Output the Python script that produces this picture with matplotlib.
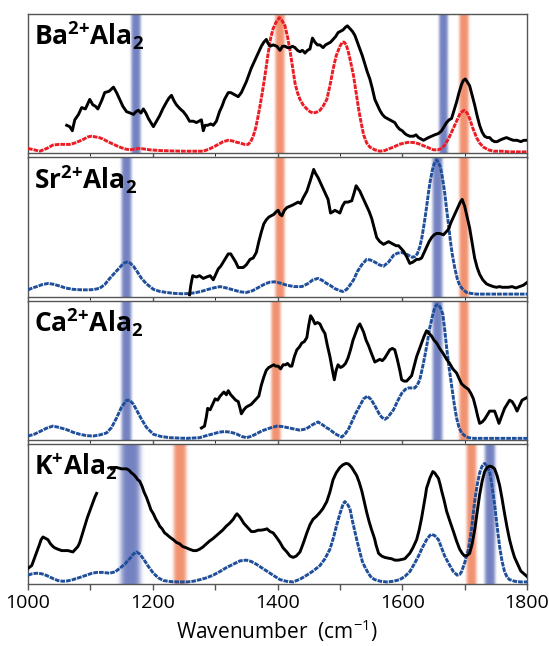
import numpy as np
import matplotlib
matplotlib.use('Agg')
import matplotlib.pyplot as plt
from matplotlib.colors import to_rgb

# IR spectra of M(n+)Ala2 complexes: experiment (black) vs. computed (dotted)
labels = [r'$\mathbf{Ba^{2{+}}Ala_{2}}$', r'$\mathbf{Sr^{2{+}}Ala_{2}}$',
          r'$\mathbf{Ca^{2{+}}Ala_{2}}$', r'$\mathbf{K^{{+}}Ala_{2}}$']

ba_exp = [(1062, 19), (1067, 18), (1071, 15), (1075, 23), (1081, 27), (1086, 32), (1092, 31),
          (1099, 38), (1104, 34), (1108, 33), (1112, 31), (1118, 37), (1123, 43), (1130, 44),
          (1137, 47), (1142, 43), (1147, 38), (1152, 33), (1158, 29), (1164, 28), (1169, 27),
          (1173, 29), (1177, 30), (1181, 28), (1185, 31), (1189, 28), (1193, 24), (1197, 21),
          (1201, 18), (1206, 22), (1211, 26), (1216, 31), (1222, 36), (1226, 39), (1230, 41),
          (1234, 37), (1238, 34), (1244, 31), (1249, 29), (1254, 26), (1259, 22), (1265, 22),
          (1270, 21), (1274, 22), (1278, 23), (1281, 15), (1284, 19), (1288, 19), (1293, 20),
          (1297, 19), (1302, 22), (1307, 29), (1311, 33), (1315, 38), (1321, 43), (1325, 43),
          (1329, 42), (1333, 41), (1337, 40), (1342, 43), (1346, 47), (1350, 51), (1354, 56),
          (1358, 61), (1362, 65), (1366, 69), (1370, 73), (1374, 77), (1378, 80), (1382, 82),
          (1385, 79), (1388, 77), (1393, 78), (1399, 77), (1404, 74), (1408, 77), (1412, 77),
          (1416, 76), (1420, 76), (1424, 77), (1428, 76), (1432, 74), (1436, 73), (1440, 74),
          (1444, 72), (1448, 74), (1452, 75), (1456, 83), (1460, 80), (1464, 78), (1468, 78),
          (1473, 76), (1477, 78), (1481, 79), (1485, 80), (1489, 82), (1493, 84), (1497, 87),
          (1501, 88), (1505, 89), (1509, 91), (1512, 92), (1516, 90), (1520, 88), (1524, 85),
          (1528, 80), (1532, 75), (1536, 70), (1540, 64), (1544, 58), (1548, 53), (1552, 46),
          (1556, 38), (1560, 34), (1564, 30), (1568, 27), (1572, 25), (1576, 24), (1580, 23),
          (1584, 22), (1588, 21), (1592, 18), (1596, 16), (1600, 15), (1604, 13), (1607, 12),
          (1612, 11), (1618, 11), (1622, 12), (1626, 10), (1630, 9), (1634, 8), (1638, 9),
          (1642, 10), (1647, 11), (1652, 12), (1658, 13), (1663, 15), (1667, 18), (1671, 21),
          (1675, 23), (1679, 24), (1683, 30), (1687, 36), (1691, 43), (1695, 49), (1698, 52),
          (1701, 53), (1704, 51), (1708, 48), (1712, 41), (1716, 34), (1720, 26), (1724, 19),
          (1728, 14), (1732, 11), (1736, 10), (1740, 10), (1744, 8), (1748, 7), (1752, 7),
          (1756, 8), (1761, 9), (1767, 10), (1772, 9), (1778, 8), (1784, 8), (1790, 7),
          (1795, 8), (1800, 8)]

ba_calc = [(1000, 2), (1010, 1), (1019, 0), (1030, 2), (1040, 4.5), (1050, 5), (1060, 5),
           (1067, 5), (1075, 6), (1083, 7.5), (1090, 9), (1096, 10.5), (1102, 11), (1108, 10.5),
           (1114, 10), (1120, 9), (1128, 7), (1135, 5.5), (1142, 4), (1150, 2.5), (1157, 1.5),
           (1163, 1), (1170, 1.5), (1178, 2), (1185, 1.7), (1195, 1), (1211, 0.5), (1230, 0.2),
           (1250, 0), (1270, 0), (1281, 0), (1290, 1.5), (1297, 3), (1305, 5), (1313, 7),
           (1321, 8), (1328, 7.5), (1335, 6.5), (1340, 6), (1347, 5), (1353, 5), (1357, 7),
           (1361, 11), (1365, 17), (1369, 26), (1373, 36), (1377, 47), (1381, 59), (1385, 72),
           (1389, 83), (1393, 90), (1398, 95), (1403, 98), (1407, 96), (1412, 92), (1416, 84),
           (1420, 74), (1424, 62), (1428, 50), (1432, 43), (1436, 38), (1441, 34), (1447, 31),
           (1452, 29), (1457, 28), (1462, 28.5), (1468, 30), (1473, 33), (1479, 38), (1484, 48),
           (1489, 60), (1494, 70), (1500, 77), (1504, 80), (1507, 80), (1510, 78), (1513, 74),
           (1517, 66), (1522, 55), (1526, 43), (1530, 31), (1534, 21), (1538, 12), (1543, 6),
           (1548, 3), (1556, 1), (1564, 0), (1572, 0.5), (1580, 2), (1586, 3), (1595, 5),
           (1603, 6), (1610, 6.5), (1618, 6.4), (1626, 5.5), (1634, 4), (1642, 2.5), (1650, 1),
           (1657, 1), (1663, 2), (1668, 4.5), (1674, 9), (1680, 15), (1687, 22), (1693, 28),
           (1699, 30), (1704, 28), (1708, 24), (1713, 17), (1719, 10), (1724, 6), (1730, 3),
           (1738, 1), (1746, 0), (1760, 0), (1772, -0.5), (1800, -0.5)]

sr_exp = [(1259, 0), (1261, 7), (1264, 14), (1270, 13), (1275, 14), (1281, 12), (1286, 13),
          (1292, 14), (1297, 11), (1301, 15), (1305, 19), (1309, 21), (1313, 24), (1317, 27),
          (1321, 30), (1325, 30), (1329, 27), (1333, 24), (1337, 20), (1341, 20), (1345, 20),
          (1350, 22), (1356, 26), (1361, 27), (1366, 31), (1370, 39), (1374, 46), (1378, 52),
          (1382, 55), (1386, 57), (1390, 58), (1394, 59), (1398, 61), (1401, 62), (1404, 59),
          (1407, 58), (1411, 62), (1415, 64), (1420, 65), (1425, 66), (1429, 67), (1433, 68),
          (1437, 67), (1441, 71), (1447, 76), (1452, 83), (1456, 89), (1458, 92), (1461, 89),
          (1465, 86), (1469, 82), (1473, 78), (1477, 74), (1481, 70), (1485, 60), (1489, 61),
          (1492, 62), (1496, 61), (1500, 60), (1504, 65), (1508, 68), (1513, 68), (1519, 69),
          (1523, 75), (1526, 80), (1529, 78), (1532, 76), (1537, 71), (1543, 65), (1547, 61),
          (1551, 56), (1555, 49), (1559, 42), (1564, 39), (1570, 37), (1574, 38), (1578, 39),
          (1582, 38), (1586, 37), (1590, 36), (1594, 36), (1598, 34), (1602, 32), (1607, 28),
          (1612, 23), (1617, 24), (1623, 26), (1627, 26), (1631, 27), (1635, 31), (1639, 35),
          (1643, 39), (1647, 42), (1651, 44), (1655, 45), (1660, 45), (1666, 44), (1670, 46),
          (1674, 48), (1678, 53), (1682, 57), (1686, 61), (1690, 65), (1693, 68), (1696, 70),
          (1700, 65), (1704, 57), (1708, 49), (1712, 38), (1716, 27), (1720, 20), (1724, 15),
          (1729, 11), (1735, 8), (1740, 7), (1746, 6), (1751, 5.5), (1756, 6), (1760, 5.5),
          (1765, 5.5), (1770, 5.5), (1776, 6), (1782, 5), (1788, 6), (1794, 7), (1800, 9)]

sr_calc = [(1000, 3.6), (1007, 5), (1014, 6), (1023, 7.5), (1032, 8.3), (1040, 7.8), (1051, 6.4),
           (1060, 5), (1072, 4), (1083, 3.7), (1094, 3.6), (1105, 3.8), (1115, 4.8), (1123, 7.5),
           (1131, 12), (1139, 16), (1147, 20), (1153, 23), (1158, 24), (1163, 23.5), (1169, 21),
           (1175, 17), (1182, 12), (1190, 8), (1201, 4), (1211, 2.5), (1222, 1.7), (1235, 1),
           (1249, 0.7), (1260, 1), (1270, 1.7), (1278, 2.5), (1286, 3.6), (1297, 5), (1308, 6),
           (1318, 5), (1329, 3.6), (1340, 2.2), (1350, 1.7), (1360, 3), (1372, 6), (1380, 8),
           (1388, 9.3), (1396, 9.5), (1405, 8.5), (1415, 7), (1427, 6), (1439, 6), (1448, 8),
           (1457, 11), (1465, 12), (1472, 10.5), (1478, 8.5), (1484, 7), (1492, 4.5), (1500, 3),
           (1505, 2.4), (1511, 4), (1516, 7), (1522, 11), (1528, 17), (1535, 22), (1543, 26),
           (1549, 25.5), (1556, 24), (1563, 22), (1570, 21), (1578, 24), (1586, 29), (1592, 30.5),
           (1598, 31), (1604, 30.5), (1610, 29), (1616, 27.5), (1620, 28), (1624, 30), (1628, 35),
           (1631, 41), (1634, 49), (1637, 58), (1640, 68), (1642, 75), (1645, 84), (1648, 91),
           (1651, 96), (1655, 99), (1658, 97), (1661, 94), (1664, 87), (1668, 75), (1671, 63),
           (1674, 52), (1677, 40), (1680, 30), (1684, 20), (1688, 12), (1692, 7), (1697, 4),
           (1703, 1.7), (1710, 1), (1719, 0.5), (1740, 0.5), (1800, 0.5)]

ca_exp = [(1278, 7.6), (1283, 9), (1286, 16), (1288, 22), (1292, 21), (1296, 25), (1300, 29),
          (1304, 28), (1308, 31), (1312, 33), (1314, 34), (1318, 32), (1321, 35), (1325, 32),
          (1329, 30), (1333, 28), (1337, 27), (1340, 22), (1342, 18), (1346, 21), (1350, 23),
          (1354, 24), (1358, 25), (1362, 27), (1366, 29), (1370, 31), (1374, 39), (1378, 45),
          (1382, 50), (1386, 52), (1390, 53), (1394, 54), (1397, 53), (1401, 53), (1405, 51),
          (1409, 54), (1413, 54), (1416, 55), (1420, 53), (1423, 53), (1427, 60), (1431, 65),
          (1435, 67), (1439, 70), (1443, 71), (1447, 74), (1450, 83), (1453, 90), (1456, 88),
          (1460, 84), (1464, 85), (1468, 84), (1472, 80), (1476, 77), (1480, 68), (1484, 60),
          (1488, 50), (1491, 43), (1494, 50), (1497, 54), (1501, 52), (1505, 53), (1509, 55),
          (1513, 59), (1517, 65), (1521, 72), (1525, 77), (1529, 82), (1532, 84), (1535, 81),
          (1538, 78), (1542, 72), (1546, 68), (1550, 63), (1556, 56), (1560, 57), (1564, 58),
          (1568, 57), (1572, 59), (1576, 62), (1580, 65), (1584, 66), (1588, 65), (1592, 58),
          (1596, 50), (1599, 43), (1603, 42), (1607, 42), (1611, 44), (1615, 46), (1619, 53),
          (1623, 60), (1627, 65), (1631, 70), (1635, 75), (1639, 79), (1643, 77), (1647, 75),
          (1651, 72), (1655, 70), (1660, 66), (1666, 62), (1671, 58), (1676, 55), (1681, 51),
          (1687, 48), (1691, 44), (1695, 40), (1700, 38), (1706, 36), (1710, 33), (1714, 29),
          (1718, 22), (1721, 16), (1724, 11), (1728, 12), (1732, 14), (1736, 17), (1740, 20),
          (1744, 20), (1748, 20), (1752, 15), (1755, 11), (1759, 16), (1764, 22), (1768, 25),
          (1772, 28), (1776, 27), (1780, 24), (1784, 20), (1788, 24), (1792, 28), (1796, 29),
          (1800, 30)]

ca_calc = [(1000, 1.7), (1010, 3), (1019, 5), (1030, 7.5), (1040, 9), (1050, 8), (1062, 6.4),
           (1072, 4.5), (1083, 3), (1094, 2), (1104, 1.7), (1115, 2.5), (1126, 4), (1134, 8),
           (1142, 15), (1150, 23), (1158, 28), (1163, 28), (1169, 25), (1175, 20), (1182, 14),
           (1190, 8), (1201, 3), (1212, 1.5), (1227, 0.5), (1254, 0), (1275, 0.5), (1286, 2),
           (1297, 3.3), (1306, 4.5), (1315, 5), (1325, 4.5), (1334, 3.3), (1342, 1.5), (1350, 0.5),
           (1358, 1.5), (1366, 3.3), (1375, 5.5), (1388, 7.6), (1399, 9), (1407, 8.7), (1415, 8),
           (1425, 7), (1436, 6), (1446, 7), (1456, 10), (1465, 12), (1472, 10), (1478, 8),
           (1484, 6.4), (1492, 3.5), (1498, 2), (1503, 1), (1508, 3), (1514, 7), (1519, 12),
           (1525, 18), (1532, 24), (1538, 29), (1544, 31), (1550, 28.5), (1556, 24), (1563, 18),
           (1567, 15.5), (1572, 14), (1577, 15.5), (1581, 18), (1586, 21), (1592, 27), (1599, 33),
           (1605, 36), (1610, 37), (1616, 37), (1620, 37), (1624, 39), (1628, 43), (1632, 51),
           (1636, 60), (1640, 70), (1644, 81), (1648, 89), (1652, 96), (1655, 98), (1658, 98),
           (1661, 96), (1665, 91), (1668, 80), (1671, 67), (1675, 52), (1679, 39), (1683, 26),
           (1687, 15), (1691, 8), (1695, 4), (1700, 2), (1706, 0.5), (1715, 0), (1800, 0)]

k_exp = [(1000, 10), (1003, 11), (1006, 12), (1010, 17), (1014, 22), (1018, 27), (1021, 31),
         (1024, 33), (1028, 32), (1032, 31), (1036, 28), (1040, 26), (1043, 25), (1048, 24),
         (1054, 23), (1059, 23), (1064, 23), (1068, 22.5), (1072, 22), (1076, 24), (1080, 26),
         (1083, 29), (1087, 35), (1091, 41), (1095, 47), (1099, 52), (1103, 57), (1107, 62),
         (1110, 65), (1122, np.nan),
         (1134, 83), (1138, 84), (1142, 84), (1146, 83.5), (1150, 83), (1154, 83), (1158, 83),
         (1162, 82), (1166, 80), (1169, 79), (1173, 77), (1176, 75), (1179, 74), (1183, 70),
         (1186, 66), (1190, 62), (1194, 57), (1197, 53), (1201, 50), (1205, 46), (1209, 43),
         (1211, 41), (1215, 39), (1219, 36), (1222, 35), (1227, 33), (1233, 31), (1238, 29),
         (1243, 28), (1248, 26), (1254, 25), (1259, 24), (1265, 23), (1270, 23), (1275, 24),
         (1280, 25.5), (1286, 28), (1291, 30), (1297, 32), (1302, 34), (1307, 36), (1312, 38),
         (1318, 41), (1323, 43), (1329, 46), (1333, 49), (1335, 50), (1339, 48), (1342, 46),
         (1346, 43), (1350, 41), (1354, 39), (1358, 37), (1363, 37), (1369, 38), (1374, 38),
         (1380, 38.5), (1383, 39), (1388, 37), (1393, 36), (1398, 33), (1404, 29), (1409, 25),
         (1415, 22), (1420, 19), (1425, 18), (1430, 19), (1436, 22), (1441, 28), (1447, 36),
         (1452, 42), (1457, 46), (1462, 48), (1468, 51), (1473, 54), (1479, 59), (1484, 66),
         (1489, 75), (1494, 80), (1500, 84), (1505, 86), (1510, 87), (1514, 86.5), (1519, 84),
         (1523, 81), (1527, 78), (1531, 73), (1535, 67), (1539, 59), (1543, 51), (1547, 44),
         (1551, 38), (1554, 34), (1556, 31), (1558, 27), (1560, 24), (1562, 21), (1567, 19),
         (1572, 18), (1577, 17.5), (1583, 17), (1588, 16), (1594, 16), (1599, 16.5), (1604, 17),
         (1608, 19), (1612, 21), (1617, 25), (1620, 28), (1623, 31), (1627, 38), (1631, 47),
         (1634, 55), (1637, 63), (1639, 69), (1642, 73), (1644, 76), (1647, 79), (1649, 81),
         (1652, 80), (1655, 78), (1658, 76), (1661, 71), (1663, 67), (1667, 60), (1671, 52),
         (1676, 45), (1682, 37), (1687, 30), (1692, 24), (1696, 21), (1700, 19), (1704, 19.5),
         (1708, 21), (1712, 28), (1716, 38), (1720, 51), (1724, 64), (1728, 74), (1732, 81),
         (1736, 84), (1740, 85), (1744, 84.5), (1748, 83), (1752, 78), (1756, 71), (1760, 61),
         (1764, 50), (1768, 40), (1772, 31), (1776, 24), (1780, 18), (1785, 13), (1790, 8),
         (1795, 6), (1800, 4)]

k_calc = [(1000, 5), (1007, 6), (1014, 6.4), (1022, 6), (1030, 4.7), (1040, 2.5), (1048, 1),
          (1056, 0.5), (1064, 0.8), (1072, 1.7), (1083, 3.3), (1094, 5), (1102, 6.3), (1110, 7),
          (1120, 7), (1131, 6.4), (1140, 7.5), (1147, 10), (1155, 13), (1163, 17), (1169, 20.5),
          (1174, 22), (1179, 20.5), (1185, 17), (1192, 12), (1201, 6.4), (1209, 3), (1217, 1),
          (1230, 0.2), (1243, 0), (1255, 0), (1265, 0.5), (1276, 1.7), (1286, 3), (1297, 5),
          (1307, 7.5), (1318, 10.5), (1329, 13), (1340, 15.5), (1350, 16), (1358, 15), (1366, 13),
          (1376, 10), (1388, 6.4), (1396, 4), (1404, 1.7), (1414, 0.5), (1425, 0), (1436, 2),
          (1447, 5), (1457, 8), (1468, 12), (1476, 17), (1484, 24), (1490, 33), (1495, 42),
          (1500, 50), (1505, 57), (1508, 59), (1512, 57), (1516, 54), (1520, 45), (1524, 37),
          (1527, 31), (1532, 22), (1536, 15), (1540, 11), (1546, 6), (1551, 3), (1556, 1.7),
          (1565, 0.5), (1575, 0), (1586, 0.5), (1596, 1.7), (1604, 4), (1612, 7.5), (1619, 13),
          (1626, 19), (1632, 25), (1639, 31), (1644, 34), (1647, 35), (1652, 34), (1658, 31),
          (1663, 25), (1668, 19), (1675, 13), (1682, 7.5), (1688, 5), (1692, 5.5), (1695, 7.5),
          (1700, 14), (1706, 24), (1711, 39), (1716, 59), (1720, 71), (1724, 80), (1728, 85),
          (1732, 87), (1736, 85), (1740, 81), (1744, 70), (1748, 57), (1752, 41), (1756, 26),
          (1760, 15), (1764, 7.5), (1768, 3.5), (1772, 1.7), (1780, 0.5), (1790, 0), (1800, 0)]

# highlighted bands: (centre, full width) in cm-1
blue_bands = [[(1173, 28), (1665, 26)],
              [(1158, 30), (1656, 30)],
              [(1158, 30), (1657, 30)],
              [(1163, 58), (1741, 32)]]
orange_bands = [[(1403, 28), (1699, 28)],
                [(1404, 28), (1698, 28)],
                [(1397, 28), (1699, 28)],
                [(1244, 38), (1710, 30)]]

exp_data = [ba_exp, sr_exp, ca_exp, k_exp]
calc_data = [ba_calc, sr_calc, ca_calc, k_calc]
calc_colors = ['#ec1c24', '#1f4e9a', '#1f4e9a', '#1f4e9a']
BLUE = '#6474ba'
ORANGE = '#f08660'

plt.rcParams['font.family'] = ['Open Sans', 'DejaVu Sans']
plt.rcParams['mathtext.fontset'] = 'custom'
plt.rcParams['mathtext.rm'] = 'Open Sans'
plt.rcParams['mathtext.bf'] = 'Open Sans:bold'


def draw_band(ax, centre, width, color):
    # horizontal gradient: opaque core, feathered edges
    t = np.linspace(-1, 1, 101)
    rgba = np.zeros((1, t.size, 4))
    rgba[..., :3] = to_rgb(color)
    rgba[0, :, 3] = 0.9 * np.exp(-(t / 0.55) ** 4)
    ax.imshow(rgba, extent=(centre - width / 2, centre + width / 2, 0, 1),
              transform=ax.get_xaxis_transform(), aspect='auto',
              interpolation='bilinear', zorder=1)


fig, axes = plt.subplots(4, 1, figsize=(5.49, 6.46), dpi=100, sharex=True)
fig.subplots_adjust(left=0.051, right=0.96, top=0.979, bottom=0.096, hspace=0.028)

for i, ax in enumerate(axes):
    for c, w in blue_bands[i]:
        draw_band(ax, c, w, BLUE)
    for c, w in orange_bands[i]:
        draw_band(ax, c, w, ORANGE)

    cx, cy = zip(*calc_data[i])
    ax.plot(cx, cy, color=calc_colors[i], lw=2.1, ls=(0, (1.6, 0.35)), zorder=3)
    ex, ey = zip(*exp_data[i])
    ax.plot(ex, ey, color='black', lw=2.1, zorder=4, solid_joinstyle='round')

    ax.text(0.012, 0.84, labels[i], transform=ax.transAxes, fontsize=19,
            va='center', ha='left', zorder=5)

    ax.set_xlim(1000, 1800)
    ax.set_ylim(-1.5, 101)
    ax.set_yticks([])
    ax.set_xticks(np.arange(1000, 1801, 100))
    ax.tick_params(axis='x', direction='out', length=4, width=1, color='#555555',
                   labelsize=14, pad=3)
    for s in ax.spines.values():
        s.set_color('#555555')
        s.set_linewidth(1.0)

axes[-1].set_xticks([1000, 1200, 1400, 1600, 1800])
axes[-1].set_xticks(np.arange(1000, 1801, 100), minor=True)
axes[-1].tick_params(axis='x', which='minor', direction='out', length=4, width=1,
                     color='#555555')
axes[-1].set_xlabel('Wavenumber  (cm$^{-1}$)', fontsize=15, labelpad=4)

fig.savefig('out.png', dpi=100)
